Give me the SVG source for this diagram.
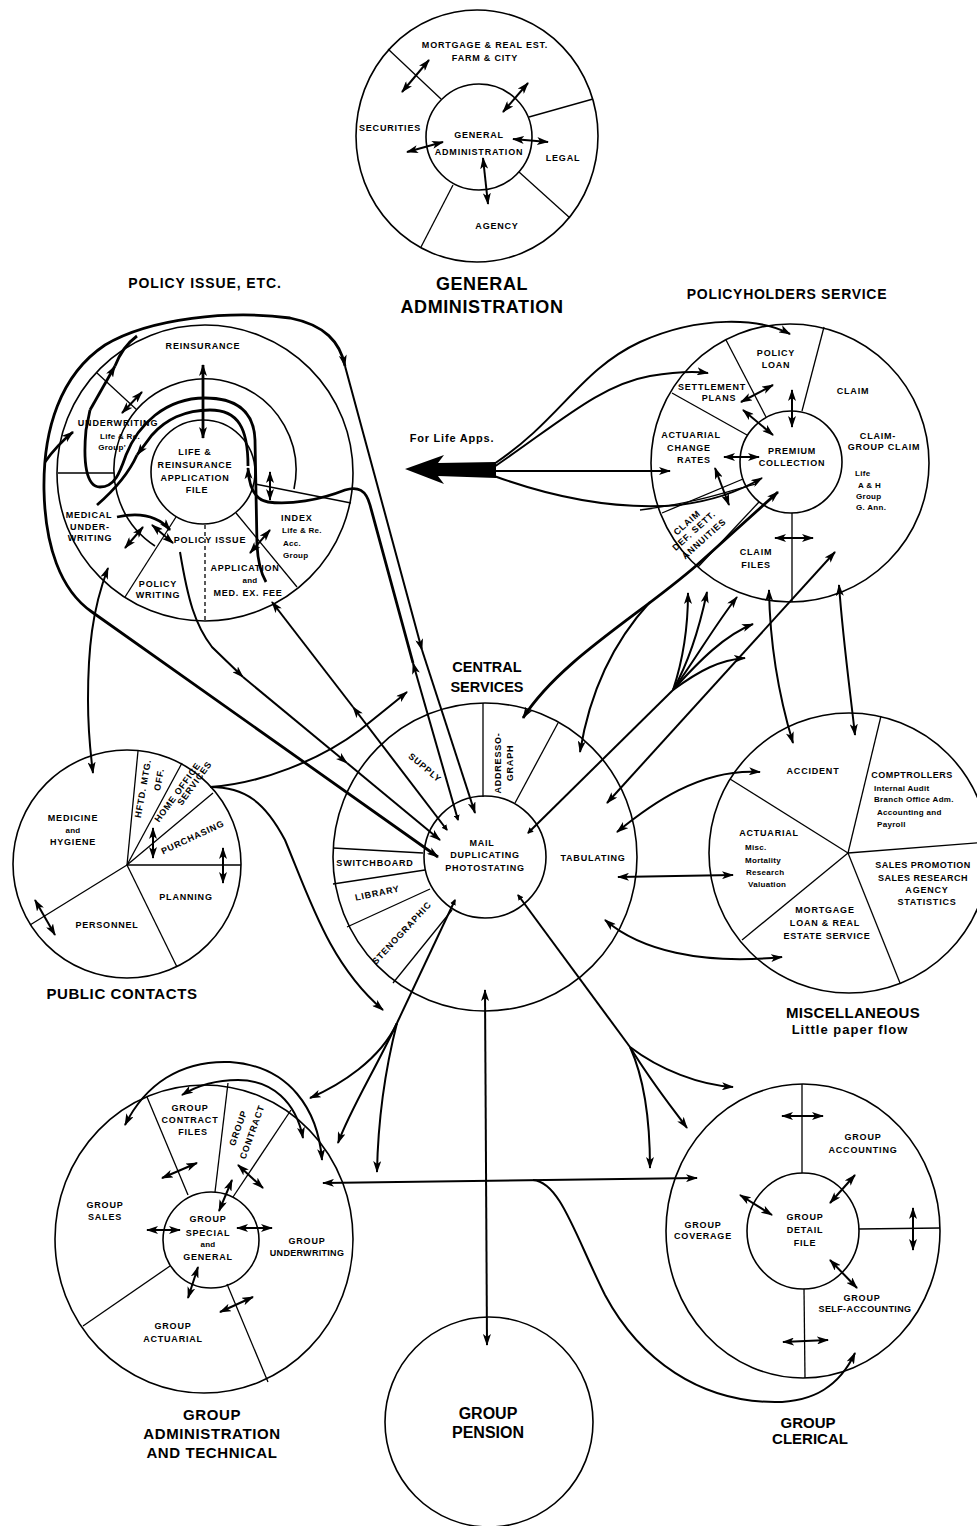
<svg xmlns="http://www.w3.org/2000/svg" width="977" height="1526" viewBox="0 0 977 1526">
<defs>
<style>
text{font-family:"Liberation Sans",Arial,sans-serif;font-weight:bold;fill:#000}
.l{font-size:9px;letter-spacing:.8px;text-anchor:middle}
.m{font-size:8px;letter-spacing:.3px;text-anchor:middle}
.ml{font-size:8px;letter-spacing:.3px}
.h{font-size:15px;letter-spacing:.6px;text-anchor:middle}
.c{fill:none;stroke:#000;stroke-width:1.6}
.d{fill:none;stroke:#000;stroke-width:1.3}
.f{fill:none;stroke:#000;stroke-width:2}
.F{fill:none;stroke:#000;stroke-width:2.8}
.s{marker-start:url(#a)}
.e{marker-end:url(#a)}
.se{marker-start:url(#a);marker-end:url(#a)}
.ks{marker-start:url(#k)}
</style>
<marker id="a" viewBox="0 0 12 8" refX="11" refY="4" markerWidth="12" markerHeight="8" markerUnits="userSpaceOnUse" orient="auto-start-reverse"><path d="M0,0 L12,4 L0,8 L3,4 Z"/></marker>
<marker id="k" viewBox="0 0 6 6" refX="5" refY="3" markerWidth="6" markerHeight="6" markerUnits="userSpaceOnUse" orient="auto-start-reverse"><path d="M0,0 L6,3 L0,6 Z"/></marker>
</defs>
<rect width="977" height="1526" fill="#fff"/>

<g id="general-administration">
<ellipse class="c" cx="477" cy="136" rx="121" ry="126"/>
<circle class="c" cx="479" cy="137" r="53"/>
<line class="d" x1="388" y1="49" x2="441" y2="99"/>
<line class="d" x1="529" y1="117" x2="593" y2="99"/>
<line class="d" x1="519" y1="172" x2="570" y2="218"/>
<line class="d" x1="453" y1="185" x2="421" y2="247"/>
<text class="l" x="485" y="48">MORTGAGE &amp; REAL EST.</text>
<text class="l" x="485" y="61">FARM &amp; CITY</text>
<text class="l" x="390" y="131">SECURITIES</text>
<text class="l" x="479" y="138">GENERAL</text>
<text class="l" x="479" y="155">ADMINISTRATION</text>
<text class="l" x="563" y="161">LEGAL</text>
<text class="l" x="497" y="229">AGENCY</text>
<path class="f se" d="M402,92 L429,60"/>
<path class="f se" d="M503,112 L528,83"/>
<path class="f se" d="M407,152 L443,142"/>
<path class="f se" d="M513,139 L548,142"/>
<path class="f se" d="M483,158 L488,204"/>
<text class="h" x="482" y="290" style="font-size:18px">GENERAL</text>
<text class="h" x="482" y="313" style="font-size:18px">ADMINISTRATION</text>
</g>

<g id="policy-issue">
<text class="h" x="205" y="288" style="font-size:14px;letter-spacing:.9px">POLICY ISSUE, ETC.</text>
<circle class="c" cx="205" cy="473" r="148"/>
<path class="c" d="M155,546 A91 91 0 1 1 294,489"/>
<circle class="c" cx="203" cy="472" r="52"/>
<line class="d" x1="97" y1="373" x2="137" y2="410"/>
<line class="d" x1="58" y1="473" x2="114" y2="473"/>
<line class="d" x1="176" y1="517" x2="125" y2="597"/>
<line class="d" x1="236" y1="513" x2="297" y2="587"/>
<line class="d" x1="255" y1="484" x2="351" y2="503"/>
<line class="d" x1="205" y1="525" x2="205" y2="621" stroke-dasharray="4,3"/>
<text class="l" x="203" y="349">REINSURANCE</text>
<text class="l" x="118" y="426">UNDERWRITING</text>
<text class="m" x="120" y="439">Life &amp; Re.</text>
<text class="m" x="112" y="450">Group'</text>
<text class="l" x="195" y="455">LIFE &amp;</text>
<text class="l" x="195" y="468">REINSURANCE</text>
<text class="l" x="195" y="481">APPLICATION</text>
<text class="l" x="197" y="493">FILE</text>
<text class="l" x="89" y="518">MEDICAL</text>
<text class="l" x="90" y="530">UNDER-</text>
<text class="l" x="90" y="541">WRITING</text>
<text class="l" x="210" y="543">POLICY ISSUE</text>
<text class="l" x="281" y="521" style="text-anchor:start">INDEX</text>
<text class="ml" x="282" y="533">Life &amp; Re.</text>
<text class="ml" x="283" y="546">Acc.</text>
<text class="ml" x="283" y="558">Group</text>
<text class="l" x="245" y="571">APPLICATION</text>
<text class="m" x="250" y="583">and</text>
<text class="l" x="248" y="596">MED. EX. FEE</text>
<text class="l" x="158" y="587">POLICY</text>
<text class="l" x="158" y="598">WRITING</text>
<path class="F se" d="M203,365 L203,438"/>
<path class="f se" d="M122,413 L142,392"/>
<path class="f se" d="M270,472 L270,500"/>
<path class="f se" d="M125,548 L143,527"/>
<path class="f se" d="M152,525 L173,543"/>
<path class="f se" d="M250,553 L270,530"/>
</g>

<g id="policyholders-service">
<text class="h" x="787" y="299" style="font-size:14px;letter-spacing:.7px">POLICYHOLDERS SERVICE</text>
<circle class="c" cx="790" cy="463" r="139"/>
<circle class="c" cx="791" cy="462" r="51"/>
<line class="d" x1="802" y1="411" x2="824" y2="327"/>
<line class="d" x1="726" y1="340" x2="766" y2="417"/>
<line class="d" x1="672" y1="393" x2="747" y2="435"/>
<line class="d" x1="662" y1="513" x2="743" y2="479"/>
<line class="d" x1="698" y1="567" x2="759" y2="502"/>
<line class="d" x1="792" y1="513" x2="792" y2="602"/>
<text class="l" x="776" y="356">POLICY</text>
<text class="l" x="776" y="368">LOAN</text>
<text class="l" x="853" y="394">CLAIM</text>
<text class="l" x="712" y="390">SETTLEMENT</text>
<text class="l" x="719" y="401">PLANS</text>
<text class="l" x="691" y="438">ACTUARIAL</text>
<text class="l" x="689" y="451">CHANGE</text>
<text class="l" x="694" y="463">RATES</text>
<text class="l" x="792" y="454">PREMIUM</text>
<text class="l" x="792" y="466">COLLECTION</text>
<text class="l" x="878" y="439">CLAIM-</text>
<text class="l" x="884" y="450">GROUP CLAIM</text>
<text class="ml" x="855" y="476">Life</text>
<text class="ml" x="858" y="488">A &amp; H</text>
<text class="ml" x="856" y="499">Group</text>
<text class="ml" x="856" y="510">G. Ann.</text>
<text class="l" transform="translate(689,525) rotate(-42)" x="0" y="0">CLAIM</text>
<text class="l" transform="translate(696,533) rotate(-42)" x="0" y="0">DEF. SETT.</text>
<text class="l" transform="translate(706,541) rotate(-42)" x="0" y="0">ANNUITIES</text>
<text class="l" x="756" y="555">CLAIM</text>
<text class="l" x="756" y="568">FILES</text>
<path class="f se" d="M741,402 L773,385"/>
<path class="f se" d="M743,410 L773,435"/>
<path class="f se" d="M792,390 L792,427"/>
<path class="f se" d="M724,457 L759,457"/>
<path class="f se" d="M715,468 L729,505"/>
<path class="f se" d="M775,538 L813,538"/>
</g>

<g id="public-contacts">
<circle class="c" cx="127" cy="864" r="114"/>
<line class="d" x1="127" y1="865" x2="138" y2="751"/>
<line class="d" x1="127" y1="865" x2="182" y2="763"/>
<line class="d" x1="127" y1="865" x2="213" y2="793"/>
<line class="d" x1="127" y1="865" x2="241" y2="865"/>
<line class="d" x1="127" y1="865" x2="177" y2="967"/>
<line class="d" x1="127" y1="865" x2="30" y2="925"/>
<text class="l" x="73" y="821">MEDICINE</text>
<text class="m" x="73" y="833">and</text>
<text class="l" x="73" y="845">HYGIENE</text>
<text class="l" transform="translate(146,789) rotate(-80)" x="0" y="0">HFTD. MTG.</text>
<text class="l" transform="translate(162,780) rotate(-80)" x="0" y="0">OFF.</text>
<text class="l" transform="translate(180,794) rotate(-54)" x="0" y="0">HOME OFFICE</text>
<text class="l" transform="translate(197,785) rotate(-54)" x="0" y="0">SERVICES</text>
<text class="l" transform="translate(194,840) rotate(-25)" x="0" y="0">PURCHASING</text>
<text class="l" x="186" y="900">PLANNING</text>
<text class="l" x="107" y="928">PERSONNEL</text>
<path class="f se" d="M153,828 L153,858"/>
<path class="f se" d="M223,848 L223,883"/>
<path class="f se" d="M35,900 L55,935"/>
<text class="h" x="122" y="999">PUBLIC CONTACTS</text>
</g>

<g id="central-services">
<text class="h" x="487" y="672" style="font-size:14.5px;letter-spacing:0">CENTRAL</text>
<text class="h" x="487" y="692" style="font-size:14.5px;letter-spacing:0">SERVICES</text>
<ellipse class="c" cx="485" cy="857" rx="152" ry="154"/>
<circle class="c" cx="485" cy="857" r="61"/>
<line class="d" x1="483" y1="703" x2="483" y2="797"/>
<line class="d" x1="558" y1="723" x2="515" y2="803"/>
<line class="d" x1="333" y1="848" x2="423" y2="853"/>
<line class="d" x1="333" y1="884" x2="425" y2="870"/>
<line class="d" x1="347" y1="927" x2="430" y2="889"/>
<line class="d" x1="393" y1="983" x2="452" y2="910"/>
<text class="l" transform="translate(423,770) rotate(40)" x="0" y="0">SUPPLY</text>
<text class="l" transform="translate(501,763) rotate(-90)" x="0" y="0">ADDRESSO-</text>
<text class="l" transform="translate(513,763) rotate(-90)" x="0" y="0">GRAPH</text>
<text class="l" x="482" y="846">MAIL</text>
<text class="l" x="485" y="858">DUPLICATING</text>
<text class="l" x="485" y="871">PHOTOSTATING</text>
<text class="l" x="593" y="861">TABULATING</text>
<text class="l" x="375" y="866">SWITCHBOARD</text>
<text class="l" transform="translate(378,896) rotate(-12)" x="0" y="0">LIBRARY</text>
<text class="l" transform="translate(404,935) rotate(-47)" x="0" y="0">STENOGRAPHIC</text>
</g>

<g id="miscellaneous">
<circle class="c" cx="849" cy="853" r="140"/>
<line class="d" x1="848" y1="853" x2="730" y2="779"/>
<line class="d" x1="848" y1="853" x2="881" y2="716"/>
<line class="d" x1="848" y1="853" x2="988" y2="842"/>
<line class="d" x1="848" y1="853" x2="900" y2="983"/>
<line class="d" x1="848" y1="853" x2="742" y2="940"/>
<text class="l" x="813" y="774">ACCIDENT</text>
<text class="l" x="912" y="778" style="letter-spacing:.5px">COMPTROLLERS</text>
<text class="ml" x="874" y="791">Internal Audit</text>
<text class="ml" x="874" y="802">Branch Office Adm.</text>
<text class="ml" x="877" y="815">Accounting and</text>
<text class="ml" x="877" y="827">Payroll</text>
<text class="l" x="769" y="836">ACTUARIAL</text>
<text class="ml" x="745" y="850">Misc.</text>
<text class="ml" x="745" y="863">Mortality</text>
<text class="ml" x="746" y="875">Research</text>
<text class="ml" x="748" y="887">Valuation</text>
<text class="l" x="923" y="868" style="letter-spacing:.5px">SALES PROMOTION</text>
<text class="l" x="923" y="881" style="letter-spacing:.5px">SALES RESEARCH</text>
<text class="l" x="927" y="893">AGENCY</text>
<text class="l" x="927" y="905">STATISTICS</text>
<text class="l" x="825" y="913">MORTGAGE</text>
<text class="l" x="825" y="926">LOAN &amp; REAL</text>
<text class="l" x="827" y="939">ESTATE SERVICE</text>
<text class="h" x="853" y="1018" style="letter-spacing:.3px">MISCELLANEOUS</text>
<text class="h" x="850" y="1034" style="font-size:13px;letter-spacing:1px">Little paper flow</text>
</g>

<g id="group-administration">
<ellipse class="c" cx="204" cy="1239" rx="149" ry="154"/>
<circle class="c" cx="211" cy="1240" r="48"/>
<line class="d" x1="147" y1="1097" x2="188" y2="1195"/>
<line class="d" x1="228" y1="1083" x2="215" y2="1192"/>
<line class="d" x1="291" y1="1110" x2="233" y2="1197"/>
<line class="d" x1="227" y1="1284" x2="268" y2="1382"/>
<line class="d" x1="170" y1="1266" x2="83" y2="1326"/>
<text class="l" x="190" y="1111">GROUP</text>
<text class="l" x="190" y="1123">CONTRACT</text>
<text class="l" x="193" y="1135">FILES</text>
<text class="l" transform="translate(241,1129) rotate(-70)" x="0" y="0">GROUP</text>
<text class="l" transform="translate(255,1133) rotate(-70)" x="0" y="0">CONTRACT</text>
<text class="l" x="105" y="1208">GROUP</text>
<text class="l" x="105" y="1220">SALES</text>
<text class="l" x="208" y="1222">GROUP</text>
<text class="l" x="208" y="1236">SPECIAL</text>
<text class="m" x="208" y="1247">and</text>
<text class="l" x="208" y="1260">GENERAL</text>
<text class="l" x="307" y="1244">GROUP</text>
<text class="l" x="307" y="1256" style="letter-spacing:.3px">UNDERWRITING</text>
<text class="l" x="173" y="1329">GROUP</text>
<text class="l" x="173" y="1342">ACTUARIAL</text>
<path class="f se" d="M162,1178 L197,1163"/>
<path class="f se" d="M147,1230 L180,1230"/>
<path class="f se" d="M237,1228 L272,1228"/>
<path class="f se" d="M219,1211 L232,1180"/>
<path class="f se" d="M238,1165 L263,1188"/>
<path class="f se" d="M198,1267 L188,1298"/>
<path class="f se" d="M220,1312 L253,1297"/>
<text class="h" x="212" y="1420">GROUP</text>
<text class="h" x="212" y="1439">ADMINISTRATION</text>
<text class="h" x="212" y="1458">AND TECHNICAL</text>
</g>

<g id="group-pension">
<ellipse class="c" cx="489" cy="1422" rx="104" ry="105"/>
<text class="h" x="488" y="1419" style="font-size:16px;letter-spacing:0">GROUP</text>
<text class="h" x="488" y="1438" style="font-size:16px;letter-spacing:0">PENSION</text>
</g>

<g id="group-clerical">
<ellipse class="c" cx="803" cy="1231" rx="137" ry="147"/>
<ellipse class="c" cx="803" cy="1231" rx="56" ry="58"/>
<line class="d" x1="802" y1="1084" x2="802" y2="1173"/>
<line class="d" x1="859" y1="1229" x2="940" y2="1228"/>
<line class="d" x1="804" y1="1289" x2="805" y2="1378"/>
<text class="l" x="863" y="1140">GROUP</text>
<text class="l" x="863" y="1153">ACCOUNTING</text>
<text class="l" x="703" y="1228">GROUP</text>
<text class="l" x="703" y="1239">COVERAGE</text>
<text class="l" x="805" y="1220">GROUP</text>
<text class="l" x="805" y="1233">DETAIL</text>
<text class="l" x="805" y="1246">FILE</text>
<text class="l" x="862" y="1301">GROUP</text>
<text class="l" x="865" y="1312" style="letter-spacing:.4px">SELF-ACCOUNTING</text>
<path class="f se" d="M782,1116 L823,1116"/>
<path class="f se" d="M830,1203 L855,1175"/>
<path class="f se" d="M740,1195 L772,1215"/>
<path class="f se" d="M913,1208 L913,1250"/>
<path class="f se" d="M830,1260 L857,1288"/>
<path class="f se" d="M783,1342 L828,1340"/>
<text class="h" x="808" y="1428" style="font-size:15px;letter-spacing:0">GROUP</text>
<text class="h" x="810" y="1444" style="font-size:15px;letter-spacing:0">CLERICAL</text>
</g>

<g id="connectors">
<text x="452" y="442" style="font-size:11px;letter-spacing:.8px;text-anchor:middle">For Life Apps.</text>
<path d="M405,469 L444,455 L438,463 L496,462 L496,478 L438,476 L444,484 Z" fill="#000"/>
<path class="f e" d="M494,464 C560,420 580,370 640,342 C700,315 760,318 790,334"/>
<path class="f e" d="M494,467 C560,422 600,385 650,376 C680,371 695,371 708,373"/>
<path class="f e" d="M494,471 L670,471"/>
<path class="f e" d="M494,476 C560,500 620,510 679,505 C720,500 745,488 762,478"/>
<path class="d" d="M640,510 C690,504 720,494 755,484"/>
<path class="F se" d="M778,492 L697,565 C640,615 560,660 523,718"/>
<path class="f e" d="M650,602 C615,640 590,690 580,752"/>
<path class="f ks" d="M528,833 L673,690"/>
<path class="f e" d="M673,690 C683,660 688,625 688,593"/>
<path class="f e" d="M673,690 C690,660 700,625 707,592"/>
<path class="f e" d="M673,690 C695,660 715,625 737,597"/>
<path class="f e" d="M673,690 C700,660 725,635 753,624"/>
<path class="f e" d="M673,690 C700,670 720,660 745,658"/>
<path class="f se" d="M835,552 L607,803"/>
<path class="f se" d="M617,832 C650,805 700,768 760,772"/>
<path class="f se" d="M618,877 L733,875"/>
<path class="f se" d="M605,920 C640,950 700,965 782,957"/>
<path class="f se" d="M769,590 C770,650 780,700 793,743"/>
<path class="f se" d="M839,585 C843,640 850,690 855,735"/>
<path class="f ks" d="M518,895 L630,1047"/>
<path class="f e" d="M630,1047 C645,1080 650,1120 650,1168"/>
<path class="f e" d="M630,1047 C650,1080 670,1105 687,1128"/>
<path class="f e" d="M630,1047 C660,1070 700,1085 733,1087"/>
<path class="f ks" d="M455,900 L397,1023"/>
<path class="f e" d="M397,1023 C380,1060 340,1085 310,1098"/>
<path class="f e" d="M397,1023 C375,1070 350,1110 338,1143"/>
<path class="f e" d="M397,1023 C385,1070 378,1120 377,1172"/>
<path class="f se" d="M485,990 L487,1345"/>
<path class="f se" d="M323,1183 L697,1178"/>
<path class="f e" d="M533,1180 C560,1182 575,1235 605,1295 C640,1360 700,1402 775,1402 C815,1402 840,1385 855,1353"/>
<path class="f se" d="M322,1160 C318,1110 290,1066 230,1062 C180,1060 145,1085 125,1125"/>
<path class="f se" d="M303,1138 C296,1102 272,1080 238,1080 C212,1080 195,1087 182,1095"/>
<path class="f e" d="M210,787 C260,784 320,760 360,730 C380,714 395,702 407,692"/>
<path class="f e" d="M210,787 C245,787 265,802 285,840 C310,900 330,965 383,1010"/>
<path class="f se" d="M108,568 C92,610 88,650 88,700 C88,730 90,750 93,773"/>
<path class="F" d="M266,582 C262,575 258,565 257,545 L255,440 C254,412 238,398 205,398 C165,398 138,425 126,455 C120,472 115,487 100,487 C86,487 83,462 86,430 L90,410"/>
<path class="F e" d="M90,410 L115,366"/>
<path class="F" d="M115,366 C120,353 126,344 137,336"/>
<path class="F s e" d="M438,857 L92,612 C60,590 45,545 44,490 C43,430 60,375 105,345 C150,318 230,310 290,318 C325,325 340,342 345,366"/>
<path class="F e" d="M45,462 C54,449 62,441 73,432"/>
<path class="f e" d="M345,366 L422,650"/>
<path class="f e" d="M422,650 L475,813"/>
<path class="F e" d="M117,517 C140,512 158,516 170,530"/>
<path class="f e" d="M180,552 C188,600 195,625 212,647 L243,677"/>
<path class="f e" d="M243,677 L347,763"/>
<path class="f e" d="M347,763 L440,840"/>
<path class="f ks e" d="M447,830 L353,707"/>
<path class="f e" d="M353,707 L272,602"/>
<path class="f ks e" d="M458,820 L413,663"/>
<path class="F e" d="M413,663 L370,505 C366,490 358,486 345,490 C320,500 290,505 268,502 C255,500 249,488 248,468"/>
<path class="F e" d="M248,466 C248,428 238,410 210,410 C185,410 165,420 152,435 L137,455"/>
<path class="F" d="M137,455 C128,475 112,492 97,505"/>
</g>
</svg>
